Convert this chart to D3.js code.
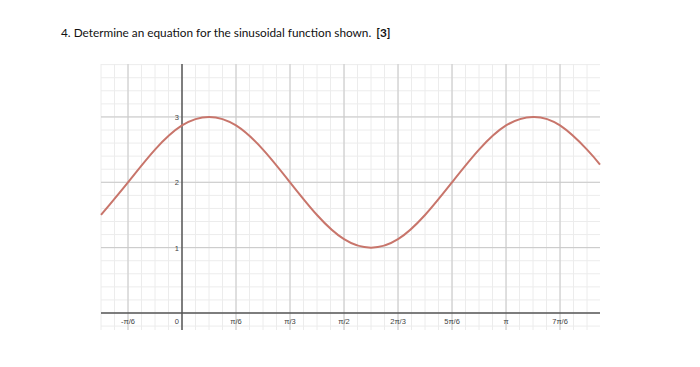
<!DOCTYPE html>
<html>
<head>
<meta charset="utf-8">
<script src="https://cdn.jsdelivr.net/npm/d3@7"></script>
<style>
  body { margin: 0; background: #fff; }
  svg { display: block; }
</style>
</head>
<body>
<svg id="chart" width="700" height="367"></svg>
<script>
const PI = Math.PI;

// x ticks in multiples of pi/6
const xTickSteps = [-1, 0, 1, 2, 3, 4, 5, 6, 7];
const xTickLabels = ["-\u03c0/6", "0", "\u03c0/6", "\u03c0/3", "\u03c0/2", "2\u03c0/3", "5\u03c0/6", "\u03c0", "7\u03c0/6"];
const yTicks = [1, 2, 3];

// curve points, x in multiples of pi/12
const curveX = [-3, -2, -1, 0, 1, 2, 3, 4, 5, 6, 7, 8, 9, 10, 11, 12, 13, 14, 15, 15.48];
const curveY = [1.5, 2, 2.5, 2.87, 3, 2.87, 2.5, 2, 1.5, 1.13, 1, 1.13, 1.5, 2, 2.5, 2.87, 3, 2.87, 2.5, 2.27];

const svg = d3.select("#chart");

const title = svg.append("text")
  .attr("x", 61).attr("y", 37)
  .attr("font-family", "Lato, 'Open Sans', sans-serif")
  .attr("font-size", 11.8)
  .attr("fill", "#111");
title.append("tspan").text("4. Determine an equation for the sinusoidal function shown.");
title.append("tspan").attr("dx", 5).attr("font-weight", "bold").text("[3]");

const plotL = 101, plotR = 600, plotT = 64, plotB = 330;

const x = d3.scaleLinear().domain([-1.5 * PI / 6, 7.74 * PI / 6]).range([plotL, plotR]);
const y = d3.scaleLinear().domain([-0.26, 3.81]).range([plotB, plotT]);

const g = svg.append("g");

// minor grid
const minorX = d3.range(-6, 31).map(k => k * PI / 24).filter(v => x(v) >= plotL && x(v) <= plotR);
const minorY = d3.range(-1, 20).map(k => k * 0.2).filter(v => y(v) >= plotT && y(v) <= plotB);
g.selectAll(".mx").data(minorX).enter().append("line")
  .attr("x1", d => x(d)).attr("x2", d => x(d)).attr("y1", plotT).attr("y2", plotB)
  .attr("stroke", "#ececec").attr("stroke-width", 1);
g.selectAll(".my").data(minorY).enter().append("line")
  .attr("x1", plotL).attr("x2", plotR).attr("y1", d => y(d)).attr("y2", d => y(d))
  .attr("stroke", "#ececec").attr("stroke-width", 1);

// major grid
g.selectAll(".Mx").data(xTickSteps.filter(d => d !== 0)).enter().append("line")
  .attr("x1", d => x(d * PI / 6)).attr("x2", d => x(d * PI / 6)).attr("y1", plotT).attr("y2", plotB)
  .attr("stroke", "#c8c8c8").attr("stroke-width", 1);
g.selectAll(".My").data(yTicks).enter().append("line")
  .attr("x1", plotL).attr("x2", plotR).attr("y1", d => y(d)).attr("y2", d => y(d))
  .attr("stroke", "#c8c8c8").attr("stroke-width", 1);

// axes
g.append("line").attr("x1", plotL).attr("x2", plotR).attr("y1", y(0)).attr("y2", y(0))
  .attr("stroke", "#555").attr("stroke-width", 1.5);
g.append("line").attr("x1", x(0)).attr("x2", x(0)).attr("y1", plotT).attr("y2", plotB)
  .attr("stroke", "#555").attr("stroke-width", 1.5);

// tick labels
const lblFont = "Arial, 'Liberation Sans', sans-serif";
g.selectAll(".xl").data(xTickSteps).enter().append("text")
  .attr("x", d => d === 0 ? x(0) - 3 : x(d * PI / 6))
  .attr("y", y(0) + 11)
  .attr("text-anchor", d => d === 0 ? "end" : "middle")
  .attr("font-family", lblFont).attr("font-size", 7.5).attr("fill", "#444")
  .text((d, i) => xTickLabels[i]);
g.selectAll(".yl").data(yTicks).enter().append("text")
  .attr("x", x(0) - 3).attr("y", d => y(d) + 3)
  .attr("text-anchor", "end")
  .attr("font-family", lblFont).attr("font-size", 7.5).attr("fill", "#444")
  .text(d => d);

// curve
const pts = curveX.map((v, i) => [v * PI / 12, curveY[i]]);
const line = d3.line().x(d => x(d[0])).y(d => y(d[1])).curve(d3.curveNatural);
g.append("path").datum(pts).attr("d", line)
  .attr("fill", "none").attr("stroke", "#c8756b").attr("stroke-width", 2);
</script>
</body>
</html>
